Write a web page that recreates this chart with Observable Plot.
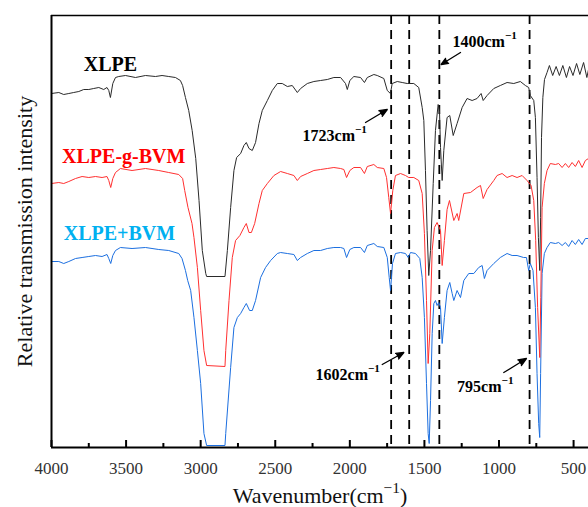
<!DOCTYPE html>
<html>
<head>
<meta charset="utf-8">
<script src="https://cdn.jsdelivr.net/npm/d3@7"></script>
<script src="https://cdn.jsdelivr.net/npm/@observablehq/plot@0.6"></script>
<style>
  html, body { margin: 0; padding: 0; background: #fff; }
  #chart svg { display: block; }
  #chart svg text { font-family: "Liberation Serif", "Times New Roman", Times, serif; }
</style>
</head>
<body>
<div id="chart"></div>
<script>
// FTIR spectra: [wavenumber (cm^-1), relative transmission (a.u., stacked)]
const xlpe = [
  [4000,354],[3951,355],[3918,353],[3884,354],[3851,355],[3817,356],[3784,358],[3750,358],[3717,359],[3683,360],
  [3650,358],[3628,360],[3616,357],[3605,350],[3589,364],[3571,370],[3549,371],[3504,372],[3437,370],[3370,372],
  [3303,371],[3259,372],[3214,371],[3169,370],[3136,367],[3121,362],[3102,350],[3080,337],[3057,317],[3033,289],
  [3011,247],[2989,197],[2966,174],[2960,171],[2837,171],[2821,197],[2799,240],[2777,277],[2759,290],[2732,294],
  [2710,302],[2694,305],[2676,299],[2654,297],[2632,305],[2609,324],[2587,337],[2553,347],[2520,357],[2486,364],
  [2453,364],[2419,361],[2386,362],[2352,355],[2330,359],[2285,364],[2241,366],[2196,367],[2151,368],[2107,370],
  [2062,370],[2029,364],[2017,358],[2000,367],[1973,371],[1928,370],[1902,365],[1883,370],[1839,373],[1816,372],
  [1772,369],[1749,357],[1728,354],[1716,364],[1682,366],[1649,365],[1615,364],[1571,364],[1538,360],[1515,340],
  [1504,327],[1493,277],[1482,217],[1471,172],[1459,197],[1441,264],[1426,317],[1408,343],[1399,337],[1392,300],
  [1381,267],[1370,297],[1348,330],[1330,332],[1307,312],[1281,324],[1247,340],[1214,349],[1180,347],[1147,349],
  [1120,354],[1106,347],[1080,352],[1035,359],[991,362],[946,365],[901,364],[857,366],[823,362],[801,360],
  [790,352],[767,347],[756,330],[745,270],[736,210],[727,177],[721,230],[715,310],[706,350],[695,368],
  [678,375],[662,382],[640,372],[617,381],[595,372],[572,382],[548,370],[527,381],[504,372],[480,384],
  [458,373],[433,385],[411,370],[400,378]
];

const xlpeGBvm = [
  [4000,264],[3951,265],[3918,264],[3884,266],[3839,269],[3795,271],[3750,270],[3705,271],[3661,270],[3628,271],
  [3616,267],[3603,260],[3589,269],[3571,275],[3538,279],[3460,277],[3370,279],[3281,277],[3214,275],[3147,273],
  [3121,269],[3107,257],[3085,240],[3058,224],[3045,210],[3022,180],[3000,137],[2978,97],[2960,82],[2837,81],
  [2832,97],[2810,147],[2788,190],[2766,207],[2737,212],[2710,220],[2694,224],[2676,215],[2660,215],[2638,224],
  [2609,244],[2587,257],[2553,264],[2509,272],[2464,276],[2419,274],[2375,272],[2352,267],[2330,271],[2285,274],
  [2241,277],[2196,278],[2151,279],[2107,280],[2062,279],[2040,278],[2022,270],[2000,277],[1973,280],[1928,280],
  [1902,274],[1883,281],[1839,283],[1816,280],[1772,279],[1754,270],[1739,250],[1727,234],[1712,257],[1694,272],
  [1660,274],[1627,272],[1605,270],[1571,270],[1538,267],[1515,254],[1500,214],[1486,147],[1475,84],[1464,114],
  [1448,197],[1433,220],[1415,225],[1392,217],[1381,182],[1366,207],[1348,238],[1332,247],[1303,227],[1281,234],
  [1270,227],[1236,254],[1191,255],[1147,260],[1124,262],[1106,249],[1080,258],[1035,267],[1013,272],[979,274],
  [946,270],[912,272],[879,270],[845,272],[812,267],[785,262],[767,247],[754,207],[741,140],[727,90],
  [720,150],[711,240],[696,264],[678,277],[656,284],[622,283],[600,284],[577,280],[555,284],[533,280],
  [510,285],[488,281],[466,287],[443,280],[421,287],[400,289]
];

const xlpePlusBvm = [
  [4000,186],[3951,186],[3918,184],[3884,186],[3839,189],[3795,190],[3750,191],[3705,192],[3661,191],[3628,193],
  [3616,189],[3603,184],[3589,192],[3571,197],[3538,200],[3460,199],[3370,200],[3281,198],[3214,197],[3147,194],
  [3125,189],[3102,177],[3087,167],[3067,157],[3045,130],[3022,97],[3000,64],[2978,14],[2960,2],[2837,2],
  [2832,14],[2799,80],[2777,120],[2754,130],[2732,134],[2710,140],[2694,144],[2672,137],[2654,137],[2632,147],
  [2598,170],[2565,180],[2531,187],[2486,194],[2464,195],[2419,194],[2375,193],[2352,187],[2330,190],[2285,194],
  [2241,197],[2196,197],[2151,199],[2107,200],[2062,200],[2040,199],[2022,190],[2000,198],[1973,200],[1928,200],
  [1902,195],[1883,202],[1839,204],[1816,201],[1772,200],[1749,190],[1736,170],[1727,157],[1714,184],[1694,194],
  [1660,195],[1627,194],[1609,190],[1593,195],[1560,194],[1531,189],[1515,170],[1500,130],[1486,64],[1475,14],
  [1468,4],[1459,47],[1448,114],[1437,144],[1426,147],[1415,142],[1404,145],[1392,140],[1381,104],[1366,130],
  [1348,157],[1330,165],[1314,154],[1303,147],[1281,157],[1258,150],[1236,167],[1203,174],[1169,174],[1136,180],
  [1113,182],[1098,169],[1080,177],[1035,184],[991,190],[946,194],[912,192],[879,192],[835,190],[816,190],
  [801,177],[790,184],[772,177],[756,140],[745,74],[734,24],[727,10],[721,74],[711,174],[696,194],
  [678,200],[656,205],[622,204],[600,205],[577,202],[555,205],[533,201],[510,207],[488,203],[466,208],
  [443,203],[421,209],[400,209]
];

// Characteristic bands marked with dashed guides
const bands = [1723, 1602, 1400, 795];

// Axis ticks
const majorTicks = [4000, 3500, 3000, 2500, 2000, 1500, 1000, 500];
const minorTicks = [3750, 3250, 2750, 2250, 1750, 1250, 750];

// Series names and where their labels sit
const seriesLabels = [
  {name: "XLPE", x: 3784, y: 383, color: "#000000"},
  {name: "XLPE-g-BVM", x: 3929, y: 291, color: "#ff0000"},
  {name: "XLPE+BVM", x: 3918, y: 214, color: "#00b0f0"}
];

// Band callouts: label anchor and arrow (from -> to)
const callouts = [
  {label: "1723cm^−1", x: 2317, y: 312, x1: 1895, y1: 325, x2: 1749, y2: 338},
  {label: "1400cm^−1", x: 1312, y: 406, x1: 1258, y1: 395, x2: 1388, y2: 383},
  {label: "1602cm^−1", x: 2230, y: 73, x1: 1783, y1: 83, x2: 1638, y2: 95},
  {label: "795cm^−1", x: 1281, y: 61, x1: 968, y1: 75, x2: 816, y2: 89}
];

const width = 588, height = 507;
const marginTop = 15, marginRight = 0, marginBottom = 60, marginLeft = 51;
const frameH = height - marginTop - marginBottom;
const serif = "Liberation Serif";

const chart = Plot.plot({
  width, height, marginTop, marginRight, marginBottom, marginLeft,
  x: {domain: [4000, 400], axis: null},
  y: {domain: [0, 432], axis: null},
  style: {fontFamily: serif, background: "#fff", overflow: "visible"},
  marks: [
    Plot.ruleX(bands, {stroke: "#000", strokeWidth: 1.8, strokeDasharray: "9,6"}),
    Plot.line(xlpePlusBvm, {x: d => d[0], y: d => d[1], stroke: "#1c6fe0", strokeWidth: 1}),
    Plot.line(xlpeGBvm, {x: d => d[0], y: d => d[1], stroke: "#ff3030", strokeWidth: 1}),
    Plot.line(xlpe, {x: d => d[0], y: d => d[1], stroke: "#2a2a2a", strokeWidth: 1}),
    // frame: top, bottom axis line, left axis line
    Plot.ruleY([432], {stroke: "#000", strokeWidth: 1.6}),
    Plot.ruleY([0], {stroke: "#000", strokeWidth: 2}),
    Plot.ruleX([4000], {stroke: "#000", strokeWidth: 2}),
    // inward ticks
    Plot.ruleX(majorTicks, {stroke: "#000", strokeWidth: 2, insetTop: frameH - 7}),
    Plot.ruleX(minorTicks, {stroke: "#000", strokeWidth: 2, insetTop: frameH - 4}),
    Plot.text(majorTicks, {x: d => d, text: d => String(d), frameAnchor: "bottom", lineAnchor: "top", dy: 14,
      fontSize: 17, fill: "#333"}),
    Plot.text(["Wavenumber(cm^−1^)"], {frameAnchor: "bottom", textAnchor: "middle", lineAnchor: "middle", dy: 48,
      fontSize: 22, fill: "#111"}),
    Plot.text(["Relative transmission intensity"], {frameAnchor: "left", textAnchor: "middle", rotate: -90, dx: -27,
      lineAnchor: "middle", fontSize: 22, fill: "#111"}),
    Plot.text(seriesLabels, {x: "x", y: "y", text: "name", fill: d => d.color, textAnchor: "start",
      fontSize: 20, fontWeight: "bold"}),
    Plot.arrow(callouts, {x1: "x1", y1: "y1", x2: "x2", y2: "y2", stroke: "#000", fill: "#000",
      strokeWidth: 1.3, headLength: 10, headAngle: 45}),
    Plot.text(callouts, {x: "x", y: "y", text: "label", textAnchor: "start", fill: "#000",
      fontSize: 16, fontWeight: "bold"})
  ]
});

// Turn "^...^" segments into raised superscripts
chart.querySelectorAll("text").forEach(t => {
  const s = t.textContent;
  if (!s.includes("^")) return;
  const size = parseFloat(t.closest("[font-size]")?.getAttribute("font-size")) || 16;
  const shift = size * 0.45;
  const parts = s.split("^");
  t.textContent = "";
  parts.forEach((p, i) => {
    if (!p) return;
    const span = document.createElementNS("http://www.w3.org/2000/svg", "tspan");
    span.textContent = p;
    if (i % 2 === 1) {
      span.setAttribute("font-size", (size * 0.7).toFixed(1));
      span.setAttribute("dy", (-shift).toFixed(1));
    } else if (i > 0) {
      span.setAttribute("dy", shift.toFixed(1));
    }
    t.appendChild(span);
  });
});

document.getElementById("chart").appendChild(chart);
</script>
</body>
</html>
